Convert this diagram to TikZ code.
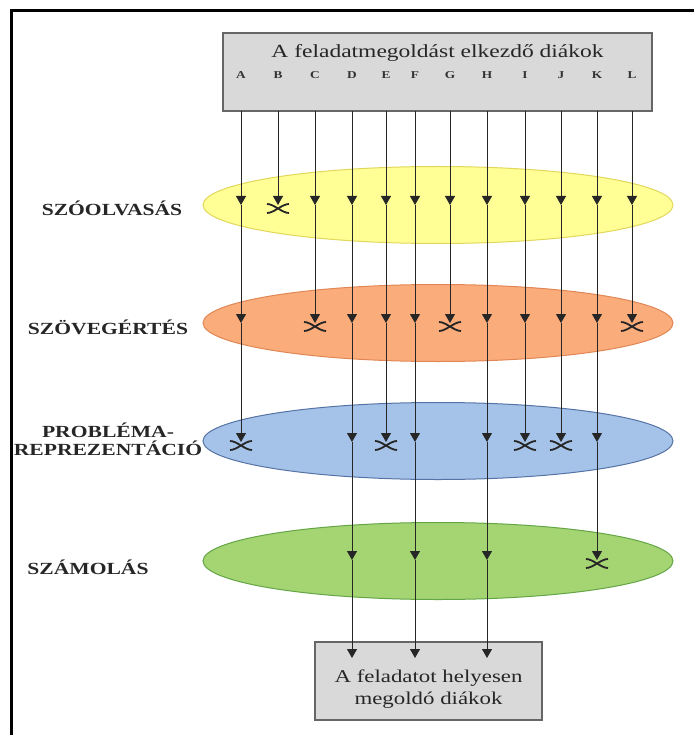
\documentclass[tikz,border=0pt]{standalone}
\usepackage{fontspec}
\setmainfont{Liberation Serif}
\usepackage{graphicx}
\usepackage{tikz}
\usetikzlibrary{arrows.meta,shapes.geometric}

\definecolor{kuningIsi}{RGB}{255,255,150}
\definecolor{kuningTepi}{RGB}{225,215,90}
\definecolor{oranyeIsi}{RGB}{250,172,122}
\definecolor{oranyeTepi}{RGB}{225,135,85}
\definecolor{biruIsi}{RGB}{165,195,232}
\definecolor{biruTepi}{RGB}{85,115,165}
\definecolor{hijauIsi}{RGB}{165,212,115}
\definecolor{hijauTepi}{RGB}{100,165,70}

\newcommand{\lebar}[1]{\scalebox{1.27}[1]{#1}}

\tikzset{
  silang/.pic={\draw[line width=1.8pt,black!85]
    (-11,-1) .. controls (-4,-1) and (4,8) .. (11,8)
    (-11,8) .. controls (-4,8) and (4,-1) .. (11,-1);}
}

\begin{document}
\begin{tikzpicture}[x=1pt,y=-1pt,
    panah/.style={draw=black!85,line width=1pt,-{Stealth[length=9pt,width=10pt,inset=0pt]}},
    kotak/.style={rectangle,draw=black!60,line width=1.4pt,fill=black!15,inner sep=0pt},
    elips/.style={ellipse,line width=1pt,minimum width=470pt,minimum height=77pt,inner sep=0pt},
    tahap/.style={font=\fontsize{17}{18}\selectfont\bfseries,text=black!85,align=center}]

    \useasboundingbox (0,0) rectangle (694,735);

    % Gambar bingkai di kiri dan atas
    \draw[line width=3pt] (11,735) -- (11,11) -- (694,11);

    % Gambar kotak atas dan kotak bawah
    \node[kotak,minimum width=429pt,minimum height=78pt] (mulai) at (437.5,72) {};
    \node[font=\fontsize{18.5}{20}\selectfont,text=black!85] (judul) at (437.5,53) {\lebar{A feladatmegoldást elkezdő diákok}};
    \node[kotak,minimum width=227pt,minimum height=78pt] (selesai) at (428.5,681) {};
    \node[font=\fontsize{18}{22}\selectfont,text=black!85,align=center] (hasil) at (428.5,689)
        {\lebar{A feladatot helyesen}\\\lebar{megoldó diákok}};

    % Gambar elips untuk setiap tahap
    \node[elips,draw=kuningTepi,fill=kuningIsi] (olvas) at (438,205) {};
    \node[elips,draw=oranyeTepi,fill=oranyeIsi] (ertes) at (438,323) {};
    \node[elips,draw=biruTepi,fill=biruIsi] (repr) at (438,441) {};
    \node[elips,draw=hijauTepi,fill=hijauIsi] (szam) at (438,561) {};

    % Gambar nama tahap di kiri
    \node[tahap] (tOlvas) at (112,208) {\lebar{SZÓOLVASÁS}};
    \node[tahap] (tErtes) at (108,327) {\lebar{SZÖVEGÉRTÉS}};
    \node[tahap] (tRepr) at (108,439) {\lebar{PROBLÉMA-}\\\lebar{REPREZENTÁCIÓ}};
    \node[tahap] (tSzam) at (88,567) {\lebar{SZÁMOLÁS}};

    % Titik untuk setiap siswa pada setiap tahap
    \foreach \c/\x in {A/241,B/278,C/315,D/352,E/386,F/415,G/450,H/487,I/525,J/561,K/597,L/632}{
        \node[font=\fontsize{10.5}{12}\selectfont\bfseries,text=black!80] (huruf\c) at (\x,75) {\lebar{\c}};
        \coordinate (\c0) at (\x,111);
        \coordinate (\c1) at (\x,205);
        \coordinate (\c2) at (\x,323);
        \coordinate (\c3) at (\x,442);
        \coordinate (\c4) at (\x,560);
        \coordinate (\c5) at (\x,658);
    }

    % Gambar panah sampai tahap terakhir yang dicapai
    \foreach \c/\akhir in {A/3,B/1,C/2,D/5,E/3,F/5,G/2,H/5,I/3,J/3,K/4,L/2}{
        \foreach \i [evaluate=\i as \j using int(\i-1)] in {1,...,\akhir}
            \draw[panah] (\c\j) -- (\c\i);
    }

    % Gambar tanda silang di tahap yang gagal
    \foreach \c/\akhir in {A/3,B/1,C/2,E/3,G/2,I/3,J/3,K/4,L/2}
        \pic at (\c\akhir) {silang};

\end{tikzpicture}
\end{document}
